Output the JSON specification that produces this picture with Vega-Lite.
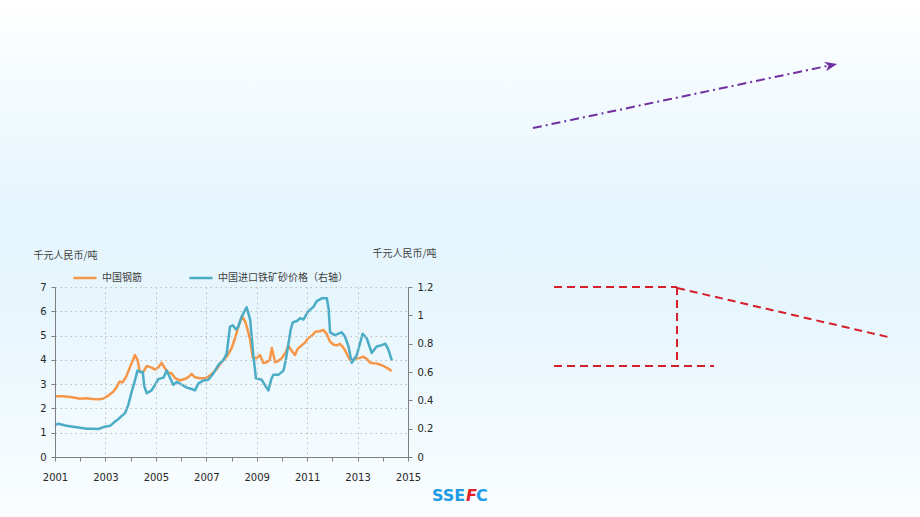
{
  "$schema": "https://vega.github.io/schema/vega-lite/v6.json",
  "width": 353,
  "height": 170,
  "autosize": {"type": "none"},
  "padding": {"left": 55, "top": 287, "right": 512, "bottom": 60},
  "background": "#FFFFFF",
  "config": {
    "font": "DejaVu Sans",
    "view": {"stroke": null},
    "axis": {
      "labelFont": "DejaVu Sans",
      "labelFontSize": 10,
      "labelColor": "#262626",
      "domainColor": "#7F7F7F",
      "tickColor": "#7F7F7F",
      "gridColor": "#BDBDBD",
      "gridDash": [1.5, 3.5],
      "titleFont": "Noto Sans CJK SC",
      "titleFontSize": 10,
      "titleFontWeight": "normal",
      "titleColor": "#404040"
    },
    "legend": {
      "orient": "none",
      "legendX": 17,
      "legendY": -22,
      "direction": "horizontal",
      "padding": 0,
      "symbolType": "stroke",
      "symbolSize": 529,
      "symbolStrokeWidth": 2.5,
      "labelFont": "Noto Sans CJK SC",
      "labelFontSize": 10,
      "labelColor": "#404040",
      "labelOffset": 4,
      "columnPadding": 42,
      "labelLimit": 300
    }
  },
  "datasets": {
    "rebar": [
      {"t": 2001.0, "v": 2.5}, {"t": 2001.3, "v": 2.5}, {"t": 2001.6, "v": 2.47}, {"t": 2001.85, "v": 2.43},
      {"t": 2002.0, "v": 2.4}, {"t": 2002.25, "v": 2.42}, {"t": 2002.5, "v": 2.39}, {"t": 2002.75, "v": 2.38},
      {"t": 2002.92, "v": 2.41}, {"t": 2003.1, "v": 2.52}, {"t": 2003.3, "v": 2.68}, {"t": 2003.45, "v": 2.88},
      {"t": 2003.55, "v": 3.1}, {"t": 2003.68, "v": 3.08}, {"t": 2003.82, "v": 3.3}, {"t": 2003.98, "v": 3.72},
      {"t": 2004.1, "v": 4.0}, {"t": 2004.17, "v": 4.2}, {"t": 2004.27, "v": 4.0}, {"t": 2004.37, "v": 3.5},
      {"t": 2004.5, "v": 3.5}, {"t": 2004.64, "v": 3.75}, {"t": 2004.83, "v": 3.68}, {"t": 2004.97, "v": 3.6},
      {"t": 2005.1, "v": 3.7}, {"t": 2005.23, "v": 3.88}, {"t": 2005.36, "v": 3.65}, {"t": 2005.5, "v": 3.47},
      {"t": 2005.62, "v": 3.45}, {"t": 2005.76, "v": 3.25}, {"t": 2005.96, "v": 3.15}, {"t": 2006.16, "v": 3.22},
      {"t": 2006.3, "v": 3.3}, {"t": 2006.42, "v": 3.42}, {"t": 2006.55, "v": 3.28}, {"t": 2006.75, "v": 3.24},
      {"t": 2006.95, "v": 3.24}, {"t": 2007.08, "v": 3.31}, {"t": 2007.25, "v": 3.45}, {"t": 2007.4, "v": 3.6},
      {"t": 2007.61, "v": 3.92}, {"t": 2007.81, "v": 4.13}, {"t": 2008.0, "v": 4.47}, {"t": 2008.14, "v": 4.89},
      {"t": 2008.27, "v": 5.37}, {"t": 2008.42, "v": 5.8}, {"t": 2008.55, "v": 5.55}, {"t": 2008.65, "v": 5.2},
      {"t": 2008.74, "v": 4.82}, {"t": 2008.84, "v": 4.1}, {"t": 2009.0, "v": 4.07}, {"t": 2009.13, "v": 4.2},
      {"t": 2009.26, "v": 3.87}, {"t": 2009.4, "v": 3.9}, {"t": 2009.52, "v": 4.0}, {"t": 2009.6, "v": 4.49},
      {"t": 2009.73, "v": 3.9}, {"t": 2009.85, "v": 3.95}, {"t": 2009.99, "v": 4.07}, {"t": 2010.15, "v": 4.3},
      {"t": 2010.25, "v": 4.6}, {"t": 2010.4, "v": 4.35}, {"t": 2010.52, "v": 4.2}, {"t": 2010.62, "v": 4.45},
      {"t": 2010.72, "v": 4.54}, {"t": 2010.9, "v": 4.7}, {"t": 2011.05, "v": 4.9}, {"t": 2011.2, "v": 5.0},
      {"t": 2011.32, "v": 5.16}, {"t": 2011.5, "v": 5.18}, {"t": 2011.65, "v": 5.23}, {"t": 2011.78, "v": 5.05},
      {"t": 2011.91, "v": 4.75}, {"t": 2012.05, "v": 4.62}, {"t": 2012.18, "v": 4.6}, {"t": 2012.3, "v": 4.66},
      {"t": 2012.4, "v": 4.55}, {"t": 2012.5, "v": 4.4}, {"t": 2012.62, "v": 4.15}, {"t": 2012.7, "v": 4.0},
      {"t": 2012.85, "v": 4.02}, {"t": 2012.97, "v": 4.07}, {"t": 2013.1, "v": 4.08}, {"t": 2013.23, "v": 4.13},
      {"t": 2013.35, "v": 4.05}, {"t": 2013.5, "v": 3.88}, {"t": 2013.65, "v": 3.86}, {"t": 2013.76, "v": 3.85},
      {"t": 2013.9, "v": 3.8}, {"t": 2014.02, "v": 3.75}, {"t": 2014.2, "v": 3.65}, {"t": 2014.36, "v": 3.54}
    ],
    "ore": [
      {"t": 2001.0, "v": 0.225}, {"t": 2001.13, "v": 0.235}, {"t": 2001.3, "v": 0.228}, {"t": 2001.46, "v": 0.22},
      {"t": 2001.66, "v": 0.215}, {"t": 2001.86, "v": 0.21}, {"t": 2002.06, "v": 0.205}, {"t": 2002.26, "v": 0.2},
      {"t": 2002.5, "v": 0.2}, {"t": 2002.72, "v": 0.198}, {"t": 2002.98, "v": 0.214}, {"t": 2003.18, "v": 0.22},
      {"t": 2003.38, "v": 0.25}, {"t": 2003.5, "v": 0.265}, {"t": 2003.65, "v": 0.29}, {"t": 2003.78, "v": 0.31},
      {"t": 2003.91, "v": 0.37}, {"t": 2004.04, "v": 0.46}, {"t": 2004.17, "v": 0.54}, {"t": 2004.27, "v": 0.61},
      {"t": 2004.4, "v": 0.6}, {"t": 2004.48, "v": 0.6}, {"t": 2004.54, "v": 0.5}, {"t": 2004.64, "v": 0.45},
      {"t": 2004.83, "v": 0.47}, {"t": 2004.97, "v": 0.51}, {"t": 2005.1, "v": 0.55}, {"t": 2005.3, "v": 0.56},
      {"t": 2005.43, "v": 0.61}, {"t": 2005.56, "v": 0.56}, {"t": 2005.69, "v": 0.51}, {"t": 2005.83, "v": 0.53},
      {"t": 2006.03, "v": 0.51}, {"t": 2006.23, "v": 0.49}, {"t": 2006.42, "v": 0.48}, {"t": 2006.55, "v": 0.47},
      {"t": 2006.69, "v": 0.52}, {"t": 2006.88, "v": 0.54}, {"t": 2007.08, "v": 0.545}, {"t": 2007.28, "v": 0.59},
      {"t": 2007.48, "v": 0.65}, {"t": 2007.68, "v": 0.685}, {"t": 2007.81, "v": 0.73}, {"t": 2007.94, "v": 0.92},
      {"t": 2008.05, "v": 0.93}, {"t": 2008.18, "v": 0.9}, {"t": 2008.27, "v": 0.92}, {"t": 2008.4, "v": 0.99},
      {"t": 2008.6, "v": 1.056}, {"t": 2008.74, "v": 0.97}, {"t": 2008.87, "v": 0.71}, {"t": 2008.97, "v": 0.555},
      {"t": 2009.2, "v": 0.545}, {"t": 2009.35, "v": 0.5}, {"t": 2009.46, "v": 0.47}, {"t": 2009.58, "v": 0.55},
      {"t": 2009.66, "v": 0.58}, {"t": 2009.86, "v": 0.58}, {"t": 2010.06, "v": 0.61}, {"t": 2010.15, "v": 0.68},
      {"t": 2010.25, "v": 0.79}, {"t": 2010.35, "v": 0.9}, {"t": 2010.43, "v": 0.95}, {"t": 2010.6, "v": 0.96},
      {"t": 2010.72, "v": 0.98}, {"t": 2010.85, "v": 0.97}, {"t": 2011.05, "v": 1.03}, {"t": 2011.25, "v": 1.06},
      {"t": 2011.38, "v": 1.1}, {"t": 2011.58, "v": 1.12}, {"t": 2011.78, "v": 1.12}, {"t": 2011.85, "v": 1.05},
      {"t": 2011.91, "v": 0.88}, {"t": 2012.1, "v": 0.86}, {"t": 2012.37, "v": 0.88}, {"t": 2012.5, "v": 0.85},
      {"t": 2012.64, "v": 0.78}, {"t": 2012.77, "v": 0.665}, {"t": 2012.97, "v": 0.72}, {"t": 2013.2, "v": 0.87},
      {"t": 2013.36, "v": 0.84}, {"t": 2013.56, "v": 0.735}, {"t": 2013.76, "v": 0.78}, {"t": 2013.96, "v": 0.79},
      {"t": 2014.1, "v": 0.8}, {"t": 2014.22, "v": 0.76}, {"t": 2014.36, "v": 0.68}
    ],
    "frame": [{"x": 0, "y": 0, "x2": 100, "y2": 100}],
    "redLines": [
      {"x": 60.22, "y": 55.51, "x2": 73.59, "y2": 55.51},
      {"x": 73.59, "y": 55.51, "x2": 73.59, "y2": 70.79},
      {"x": 60.22, "y": 70.79, "x2": 77.61, "y2": 70.79},
      {"x": 73.59, "y": 55.71, "x2": 96.52, "y2": 65.18}
    ],
    "purpleLine": [{"x": 57.93, "y": 24.76, "x2": 90.43, "y2": 12.57}],
    "purpleHead": [{"x": 90.34, "y": 12.61}],
    "logoBlue": [{"label": "SSE", "x": 46.96, "y": 95.94}, {"label": "C", "x": 51.74, "y": 95.94}],
    "logoRed": [{"label": "F", "x": 50.64, "y": 95.94}]
  },
  "layer": [
    {
      "data": {"name": "frame"},
      "mark": {
        "type": "rect",
        "fill": {
          "gradient": "linear", "x1": 0, "y1": 0, "x2": 0, "y2": 1,
          "stops": [
            {"offset": 0, "color": "#FFFFFF"},
            {"offset": 0.4, "color": "#E5F5FD"},
            {"offset": 0.6, "color": "#E7F6FD"},
            {"offset": 1, "color": "#FAFDFF"}
          ]
        }
      },
      "encoding": {
        "x": {"field": "x", "type": "quantitative", "axis": null, "scale": {"domain": [0, 100], "range": [-55, 865], "nice": false, "zero": false}},
        "x2": {"field": "x2"},
        "y": {"field": "y", "type": "quantitative", "axis": null, "scale": {"domain": [0, 100], "range": [-287, 230], "nice": false, "zero": false}},
        "y2": {"field": "y2"}
      }
    },
    {
      "data": {"name": "redLines"},
      "mark": {"type": "rule", "stroke": "#D51F2A", "strokeWidth": 2, "strokeDash": [8, 5]},
      "encoding": {
        "x": {"field": "x", "type": "quantitative", "axis": null, "scale": {"domain": [0, 100], "range": [-55, 865], "nice": false, "zero": false}},
        "x2": {"field": "x2"},
        "y": {"field": "y", "type": "quantitative", "axis": null, "scale": {"domain": [0, 100], "range": [-287, 230], "nice": false, "zero": false}},
        "y2": {"field": "y2"}
      }
    },
    {
      "data": {"name": "purpleLine"},
      "mark": {"type": "rule", "stroke": "#7030A0", "strokeWidth": 2, "strokeDash": [9, 4, 2, 4]},
      "encoding": {
        "x": {"field": "x", "type": "quantitative", "axis": null, "scale": {"domain": [0, 100], "range": [-55, 865], "nice": false, "zero": false}},
        "x2": {"field": "x2"},
        "y": {"field": "y", "type": "quantitative", "axis": null, "scale": {"domain": [0, 100], "range": [-287, 230], "nice": false, "zero": false}},
        "y2": {"field": "y2"}
      }
    },
    {
      "data": {"name": "purpleHead"},
      "mark": {"type": "point", "shape": "M 1 0 L -1 -0.8 L -0.45 0 L -1 0.8 Z", "filled": true, "fill": "#7030A0", "opacity": 1, "size": 150, "angle": 348, "strokeWidth": 0},
      "encoding": {
        "x": {"field": "x", "type": "quantitative", "axis": null, "scale": {"domain": [0, 100], "range": [-55, 865], "nice": false, "zero": false}},
        "y": {"field": "y", "type": "quantitative", "axis": null, "scale": {"domain": [0, 100], "range": [-287, 230], "nice": false, "zero": false}}
      }
    },
    {
      "data": {"name": "logoBlue"},
      "mark": {"type": "text", "font": "DejaVu Sans", "fontWeight": "bold", "fontSize": 16, "fill": "#1D9BE3", "align": "left", "baseline": "middle"},
      "encoding": {
        "x": {"field": "x", "type": "quantitative", "axis": null, "scale": {"domain": [0, 100], "range": [-55, 865], "nice": false, "zero": false}},
        "y": {"field": "y", "type": "quantitative", "axis": null, "scale": {"domain": [0, 100], "range": [-287, 230], "nice": false, "zero": false}},
        "text": {"field": "label"}
      }
    },
    {
      "data": {"name": "logoRed"},
      "mark": {"type": "text", "font": "DejaVu Sans", "fontWeight": "bold", "fontStyle": "italic", "fontSize": 16, "fill": "#E5202A", "align": "left", "baseline": "middle"},
      "encoding": {
        "x": {"field": "x", "type": "quantitative", "axis": null, "scale": {"domain": [0, 100], "range": [-55, 865], "nice": false, "zero": false}},
        "y": {"field": "y", "type": "quantitative", "axis": null, "scale": {"domain": [0, 100], "range": [-287, 230], "nice": false, "zero": false}},
        "text": {"field": "label"}
      }
    },
    {
      "data": {"name": "rebar"},
      "mark": {"type": "line", "strokeWidth": 2.5, "strokeJoin": "round"},
      "encoding": {
        "x": {
          "field": "t", "type": "quantitative",
          "scale": {"domain": [2001, 2015], "nice": false, "zero": false},
          "axis": {"zindex": 2, "orient": "bottom", "values": [2001, 2002, 2003, 2004, 2005, 2006, 2007, 2008, 2009, 2010, 2011, 2012, 2013, 2014, 2015], "labels": false, "grid": false, "tickSize": 4, "title": null}
        },
        "y": {
          "field": "v", "type": "quantitative",
          "scale": {"domain": [0, 7], "nice": false, "zero": true},
          "axis": {"zindex": 1, "orient": "left", "values": [0, 1, 2, 3, 4, 5, 6, 7], "format": "d", "grid": true, "tickSize": 4, "labelPadding": 5,
            "title": "千元人民币/吨", "titleAngle": 0, "titleAlign": "left", "titleBaseline": "middle", "titleX": -22, "titleY": -32}
        },
        "color": {
          "datum": "中国钢筋", "type": "nominal",
          "scale": {"domain": ["中国钢筋", "中国进口铁矿砂价格（右轴）"], "range": ["#F79646", "#4BACC6"]},
          "legend": {"title": null}
        }
      }
    },
    {
      "data": {"name": "ore"},
      "mark": {"type": "line", "strokeWidth": 2.5, "strokeJoin": "round"},
      "encoding": {
        "x": {
          "field": "t", "type": "quantitative",
          "scale": {"domain": [2001, 2015], "nice": false, "zero": false},
          "axis": {"zindex": 1, "orient": "bottom", "values": [2001, 2003, 2005, 2007, 2009, 2011, 2013, 2015], "format": "d", "grid": true, "ticks": false, "tickSize": 0, "domain": false, "labelPadding": 15, "labelFlush": false, "labelOverlap": false, "title": null}
        },
        "y": {
          "field": "v", "type": "quantitative",
          "scale": {"domain": [0, 1.2], "nice": false, "zero": true},
          "axis": {"zindex": 2, "orient": "right", "values": [0, 0.2, 0.4, 0.6, 0.8, 1, 1.2], "format": ".1~f", "grid": false, "tickSize": 4, "labelPadding": 5,
            "title": "千元人民币/吨", "titleAngle": 0, "titleAlign": "left", "titleBaseline": "middle", "titleX": -36, "titleY": -34}
        },
        "color": {"datum": "中国进口铁矿砂价格（右轴）", "type": "nominal"}
      }
    }
  ],
  "resolve": {"scale": {"x": "independent", "y": "independent"}}
}
